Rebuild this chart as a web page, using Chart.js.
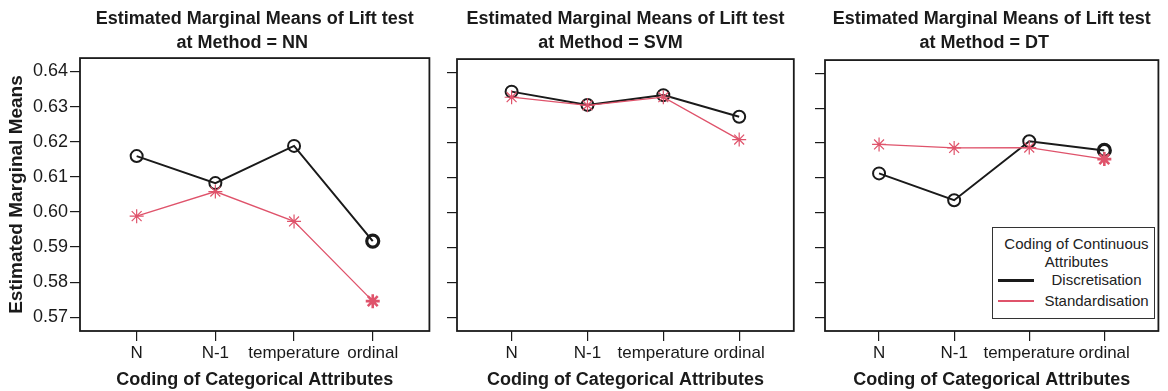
<!DOCTYPE html>
<html>
<head>
<meta charset="utf-8">
<script src="https://cdn.jsdelivr.net/npm/chart.js@4.4.1/dist/chart.umd.min.js"></script>
<style>
  body { margin: 0; background: #fff; width: 1168px; height: 391px; overflow: hidden; position: relative;
         font-family: "Liberation Sans", Arial, sans-serif; }
  .panel { position: absolute; top: 0; height: 391px; }
  #legend { position: absolute; left: 992px; top: 227px; width: 161px; height: 90px;
            border: 1px solid #333; background: #fff; font-size: 15px; color: #222; }
  #legend .t { position: absolute; left: 6px; right: 0; text-align: center; line-height: 18px; top: 7px; }
  #legend .row { position: absolute; left: 0; right: 0; height: 20px; }
  #legend .swatch { position: absolute; left: 5px; width: 36px; top: 9px; }
  #legend .lab { position: absolute; left: 50px; right: 4px; text-align: center; line-height: 20px; }
</style>
</head>
<body>
<div class="panel" style="left:0;width:439px"><canvas id="c0"></canvas></div>
<div class="panel" style="left:442px;width:360px"><canvas id="c1"></canvas></div>
<div class="panel" style="left:810px;width:358px"><canvas id="c2"></canvas></div>
<div id="legend"></div>

<script>
// data
const categories = ['N', 'N-1', 'temperature', 'ordinal'];
const methods = ['NN', 'SVM', 'DT'];
const seriesNames = ['Discretisation', 'Standardisation'];
const yTicks = [0.57, 0.58, 0.59, 0.60, 0.61, 0.62, 0.63, 0.64];

const discNN  = [0.6159, 0.6082, 0.6188, 0.5917];
const stdNN   = [0.5988, 0.6058, 0.5973, 0.5746];
const discSVM = [0.6345, 0.6307, 0.6335, 0.6273];
const stdSVM  = [0.6329, 0.6306, 0.6329, 0.6208];
const discDT  = [0.6113, 0.6036, 0.6205, 0.6179];
const stdDT   = [0.6196, 0.6186, 0.6187, 0.6154];

const BLACK = '#1a1a1a';
const RED = '#DF536B';
const FONT = '"Liberation Sans", Arial, sans-serif';

const boxPlugin = {
  id: 'box',
  afterDraw(chart) {
    const { ctx, chartArea: a } = chart;
    ctx.save();
    ctx.strokeStyle = BLACK;
    ctx.lineWidth = 1.8;
    ctx.strokeRect(a.left, a.top, a.right - a.left, a.bottom - a.top);
    ctx.restore();
  }
};

function toPoints(values) {
  return values.map((v, i) => ({ x: i, y: v }));
}

function makePanel(idx, disc, std, cfg) {
  const first = idx === 0;
  const thick = (normal, bold) => categories.map((c, i) => (cfg.boldLast && i === categories.length - 1) ? bold : normal);
  // the second title line sits a little left of centre in the original
  const line2 = 'at Method = ' + methods[idx] + '\u00a0'.repeat(cfg.titleShift);

  new Chart(document.getElementById('c' + idx), {
    type: 'line',
    data: {
      datasets: [
        {
          label: seriesNames[1], data: toPoints(std), order: 1,
          borderColor: RED, borderWidth: 1.3,
          pointStyle: 'star', pointRadius: 7, pointBorderColor: RED,
          pointBorderWidth: thick(1.2, 2.6), pointBackgroundColor: RED
        },
        {
          label: seriesNames[0], data: toPoints(disc), order: 2,
          borderColor: BLACK, borderWidth: 2,
          pointStyle: 'circle', pointRadius: 6, pointBorderColor: BLACK,
          pointBorderWidth: thick(2, 3.2), pointBackgroundColor: 'rgba(0,0,0,0)'
        }
      ]
    },
    options: {
      responsive: true,
      maintainAspectRatio: false,
      animation: false,
      layout: { padding: { left: 0, right: cfg.padRight, top: 0, bottom: 0 } },
      plugins: {
        legend: { display: false },
        tooltip: { enabled: false },
        title: {
          display: true, fullSize: false,
          text: ['Estimated Marginal Means of Lift test', line2],
          color: BLACK,
          font: { family: FONT, size: 18, weight: 'bold', lineHeight: 1.28 },
          padding: { top: 8, bottom: cfg.titleGap }
        }
      },
      scales: {
        x: {
          type: 'linear', min: -0.72, max: 3.72,
          afterBuildTicks: s => { s.ticks = categories.map((c, i) => ({ value: i })); },
          afterFit: s => { s.height = 60; },
          ticks: {
            callback: v => categories[v], color: BLACK, autoSkip: false, maxRotation: 0,
            padding: 2, font: { family: FONT, size: 17 }
          },
          grid: { drawOnChartArea: false, drawTicks: true, tickLength: 10, color: BLACK, lineWidth: 1.2 },
          border: { display: false },
          title: {
            display: true, text: 'Coding of Categorical Attributes', color: BLACK,
            font: { family: FONT, size: 18, weight: 'bold', lineHeight: 1.2 },
            padding: { top: 0, bottom: 0 }
          }
        },
        y: {
          min: 0.5661, max: 0.6438,
          afterBuildTicks: s => { s.ticks = yTicks.map(v => ({ value: v })); },
          afterFit: s => { s.width = cfg.yWidth; },
          ticks: {
            display: first, color: BLACK, padding: 2,
            callback: v => v.toFixed(2), font: { family: FONT, size: 18 }
          },
          grid: { drawOnChartArea: false, drawTicks: true, tickLength: 10, color: BLACK, lineWidth: 1.2 },
          border: { display: false },
          title: {
            display: first, text: 'Estimated Marginal Means', color: BLACK,
            font: { family: FONT, size: 19, weight: 'bold', lineHeight: 1.2 },
            padding: { top: 5, bottom: 0 }
          }
        }
      }
    },
    plugins: [boxPlugin]
  });
}

makePanel(0, discNN, stdNN, { yWidth: 80, padRight: 2, titleGap: 4, boldLast: true, titleShift: 5 });
makePanel(1, discSVM, stdSVM, { yWidth: 15, padRight: 2, titleGap: 5, boldLast: false, titleShift: 6 });
makePanel(2, discDT, stdDT, { yWidth: 15, padRight: 0, titleGap: 6, boldLast: true, titleShift: 3 });

// legend inside the DT panel
const legend = document.getElementById('legend');
legend.innerHTML = '<div class="t">Coding of Continuous<br>Attributes</div>';
const swatchStyles = [
  { color: BLACK, width: 3 },
  { color: RED, width: 2 }
];
seriesNames.forEach((name, i) => {
  const row = document.createElement('div');
  row.className = 'row';
  row.style.top = (42 + i * 21) + 'px';
  row.innerHTML = `<div class="swatch" style="border-top:${swatchStyles[i].width}px solid ${swatchStyles[i].color}"></div>
                   <div class="lab">${name}</div>`;
  legend.appendChild(row);
});
</script>
</body>
</html>
